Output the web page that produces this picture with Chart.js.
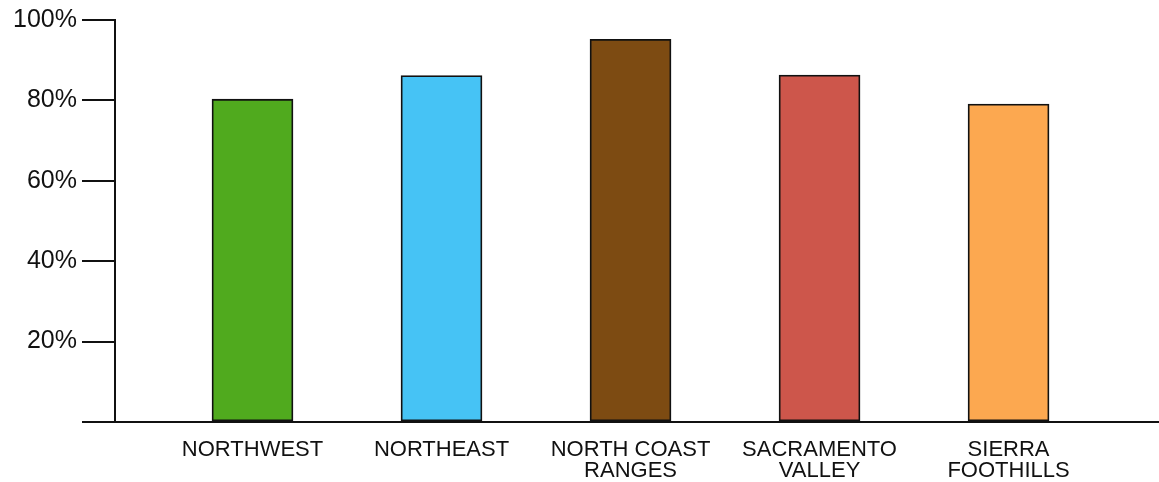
<!DOCTYPE html>
<html>
<head>
<meta charset="utf-8">
<script src="https://cdn.jsdelivr.net/npm/chart.js@4"></script>
<style>
  html, body { margin: 0; padding: 0; background: #fff; }
  #wrap { width: 1159px; height: 482px; }
</style>
</head>
<body>
<div id="wrap"><canvas id="myChart"></canvas></div>
<script>
const regions = [
  'NORTHWEST',
  'NORTHEAST',
  ['NORTH COAST', 'RANGES'],
  ['SACRAMENTO', 'VALLEY'],
  ['SIERRA', 'FOOTHILLS']
];
const shares = [80.3, 86.2, 95.2, 86.3, 79.1];
const barColors = ['#50aa1e', '#46c3f5', '#7d4b12', '#cd564b', '#fca850'];
const yTicks = [0, 20, 40, 60, 80, 100];

const ctx = document.getElementById('myChart');

new Chart(ctx, {
  type: 'bar',
  data: {
    datasets: [{
      label: '',
      data: shares.map((v, i) => ({ x: i, y: v })),
      backgroundColor: barColors,
      borderColor: '#111',
      borderWidth: 1.8,
      borderSkipped: false,
      barThickness: 81
    }]
  },
  options: {
    responsive: true,
    maintainAspectRatio: false,
    animation: false,
    layout: { padding: { top: 20, right: 0, left: 0, bottom: 0 } },
    plugins: {
      legend: { display: false },
      tooltip: { enabled: false }
    },
    scales: {
      x: {
        type: 'linear',
        offset: false,
        min: -0.7275,
        max: 4.796,
        afterBuildTicks: axis => { axis.ticks = regions.map((r, i) => ({ value: i })); },
        afterFit: axis => { axis.height = 60; },
        grid: { display: false, drawTicks: false },
        border: { display: true, color: '#111', width: 2 },
        ticks: {
          autoSkip: false,
          maxRotation: 0,
          padding: 17,
          color: '#111',
          font: { family: "'Liberation Sans', Arial, sans-serif", size: 22, lineHeight: 0.98 },
          callback: v => regions[v] ?? ''
        }
      },
      y: {
        min: 0,
        max: 100,
        afterBuildTicks: axis => { axis.ticks = yTicks.map(v => ({ value: v })); },
        afterFit: axis => { axis.width = 115; },
        grid: {
          drawOnChartArea: false,
          tickLength: 33,
          color: '#111',
          lineWidth: 2
        },
        border: { display: true, color: '#111', width: 2 },
        ticks: {
          padding: 5,
          color: '#111',
          font: { family: "'Liberation Sans', Arial, sans-serif", size: 25 },
          callback: v => v === 0 ? '' : v + '%'
        }
      }
    }
  }
});
</script>
</body>
</html>
